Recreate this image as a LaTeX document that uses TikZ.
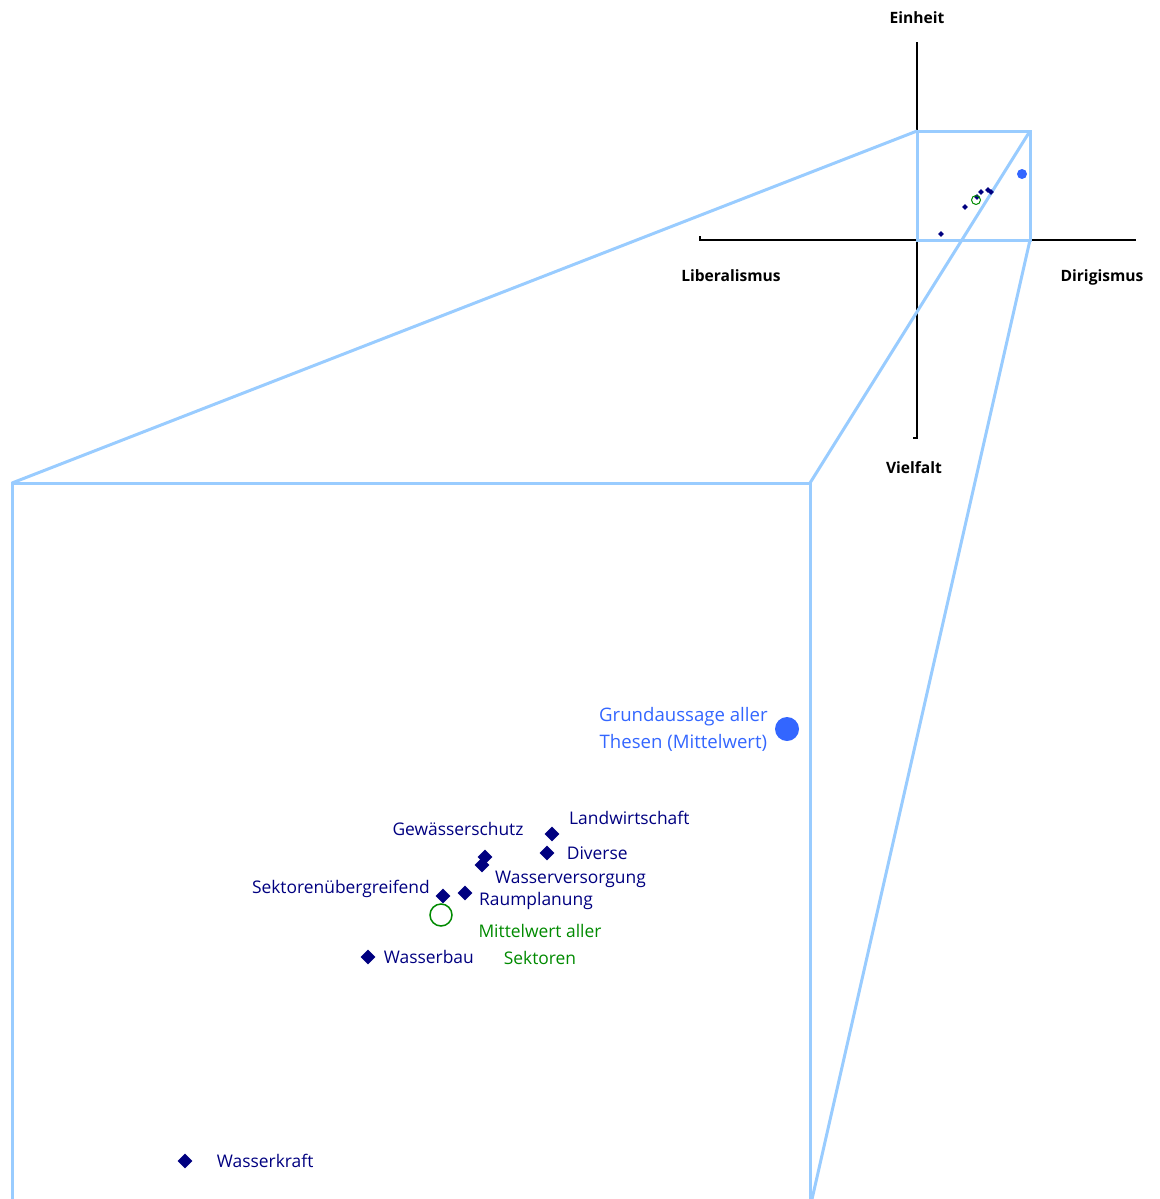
\documentclass[tikz,border=0pt]{standalone}
\usepackage{fontspec}
\setmainfont{Open Sans}
\usepackage{xcolor}
\definecolor{colorSector}{HTML}{000080}
\definecolor{colorMean}{HTML}{008A00}
\definecolor{colorThesis}{HTML}{3366FF}
\definecolor{colorZoom}{HTML}{99CCFF}
\usetikzlibrary{shapes.geometric, positioning}
\tikzset{
  sector/.style={diamond, fill=colorSector, inner sep=0pt, minimum size=15pt},
  sectorSmall/.style={diamond, fill=colorSector, inner sep=0pt, minimum size=6pt},
  sectorLabel/.style={text=colorSector, font=\fontsize{17.4}{27}\selectfont, inner sep=0pt},
  axisLabel/.style={font=\fontsize{15.6}{18}\selectfont\bfseries, inner sep=0pt},
  zoomLine/.style={colorZoom, line width=3pt}
}

\begin{document}
\begin{tikzpicture}[x=1pt, y=-1pt]
\useasboundingbox (0,0) rectangle (1159,1199);
\clip (0,0) rectangle (1159,1199);
% axes
\draw[line width=1.5pt] (913,438) -- (917,438) -- (917,42);
\draw[line width=1.5pt] (700,236) -- (700,240) -- (1136,240);
\node[axisLabel] (einheit) at (917,18) {Einheit};
\node[axisLabel] (vielfalt) at (914,468) {Vielfalt};
\node[axisLabel] (liberal) at (731,276) {Liberalismus};
\node[axisLabel] (dirig) at (1102,277) {Dirigismus};
% zoom frame
\coordinate (sTL) at (917,131);
\coordinate (sTR) at (1030,131);
\coordinate (sBR) at (1030,240);
\coordinate (sBL) at (917,240);
\coordinate (bTL) at (12,483);
\coordinate (bTR) at (810,483);
\coordinate (bBR) at (810,1208);
\coordinate (bBL) at (12,1208);
\draw[zoomLine] (sTL) -- (sTR) -- (sBR) -- (sBL) -- cycle;
\draw[zoomLine] (bBL) -- (bTL) -- (bTR) -- (bBR);
\draw[zoomLine] (sTL) -- (bTL);
\draw[zoomLine] (sTR) -- (bTR);
\draw[zoomLine] (sBR) -- (bBR);
% small chart
\node[sectorSmall] (s1) at (941,234) {};
\node[sectorSmall] (s2) at (965,207) {};
\node[sectorSmall] (s3) at (977,197) {};
\node[sectorSmall] (s4) at (981,192) {};
\node[sectorSmall] (s5) at (988,190) {};
\node[sectorSmall] (s6) at (991,192) {};
\draw[colorMean, line width=1pt] (976,200) circle (4.5pt);
\fill[colorThesis] (1022,174) circle (5pt);
% big chart
\node[sector] (lw) at (552,834) {};
\node[sector] (div) at (547,853) {};
\node[sector] (gs) at (485,857) {};
\node[sector] (wv) at (482,865) {};
\node[sector] (sk) at (443,896) {};
\node[sector] (rp) at (465,893) {};
\node[sector] (wb) at (368,957) {};
\node[sector] (wk) at (185,1161) {};
\node[sectorLabel, anchor=west] at (569,818) {Landwirtschaft};
\node[sectorLabel, right=12pt of div] {Diverse};
\node[sectorLabel] at (458,829) {Gewässerschutz};
\node[sectorLabel, anchor=west] at (495,879) {Wasserversorgung};
\node[sectorLabel, anchor=east] at (430,889) {Sektorenübergreifend};
\node[sectorLabel, anchor=west] at (479,901) {Raumplanung};
\node[sectorLabel, right=8pt of wb] {Wasserbau};
\node[sectorLabel, right=24pt of wk] {Wasserkraft};
\node[draw=colorMean, line width=1.5pt, circle, minimum size=22pt, inner sep=0pt] (mean) at (441,915) {};
\node[sectorLabel, text=colorMean, align=center] at (540,944) {Mittelwert aller\\Sektoren};
\node[circle, fill=colorThesis, minimum size=24pt, inner sep=0pt] (thesis) at (787,729) {};
\node[sectorLabel, text=colorThesis, font=\fontsize{18.6}{27}\selectfont, align=center, left=7pt of thesis] {Grundaussage aller\\Thesen (Mittelwert)};
\end{tikzpicture}
\end{document}
